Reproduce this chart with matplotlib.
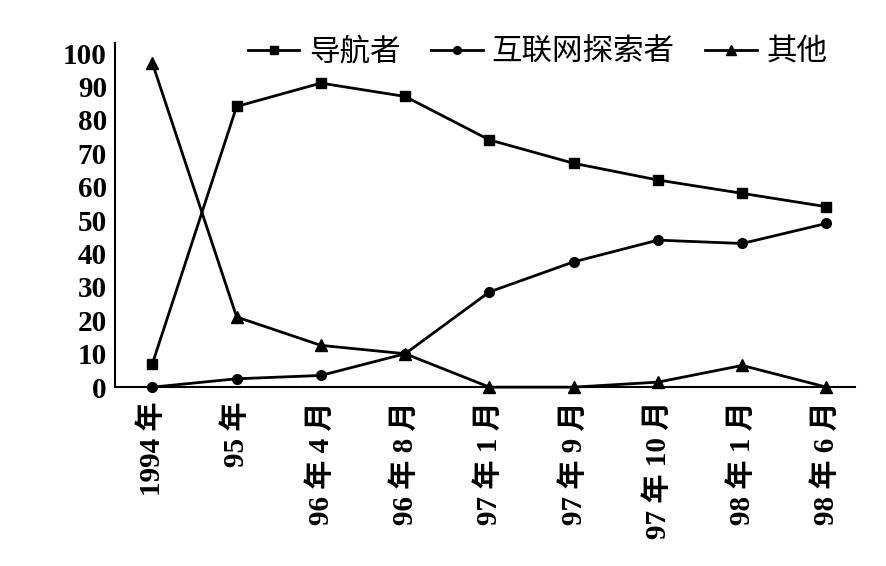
import matplotlib
matplotlib.use('Agg')
import matplotlib.pyplot as plt

plt.rcParams['font.family'] = ['Liberation Serif', 'Noto Sans CJK SC']

# data
periods = ['1994 年', '95 年', '96 年 4 月', '96 年 8 月', '97 年 1 月',
           '97 年 9 月', '97 年 10 月', '98 年 1 月', '98 年 6 月']
navigator = [7, 84, 91, 87, 74, 67, 62, 58, 54]
explorer = [0, 2.5, 3.5, 10, 28.5, 37.5, 44, 43, 49]
others = [97, 21, 12.5, 10, 0, 0, 1.5, 6.5, 0]
series_names = ['导航者', '互联网探索者', '其他']
y_ticks = [0, 10, 20, 30, 40, 50, 60, 70, 80, 90, 100]

fig = plt.figure(figsize=(8.87, 5.66), dpi=100)
ax = fig.add_axes([0.13, 0.316, 0.834, 0.608])

x = list(range(len(periods)))
ax.plot(x, navigator, color='black', lw=2, marker='s', ms=7, label=series_names[0], clip_on=False)
ax.plot(x, explorer, color='black', lw=2, marker='o', ms=7, label=series_names[1], clip_on=False)
ax.plot(x, others, color='black', lw=2, marker='^', ms=9, label=series_names[2], clip_on=False)

ax.set_xlim(-0.44, 8.34)
ax.set_ylim(0, 103)
ax.set_yticks(y_ticks)
ax.set_xticks(x)
ax.set_xticklabels(periods, rotation=90, fontsize=21, fontweight='bold')
ax.tick_params(axis='x', length=0, pad=10)
ax.tick_params(axis='y', length=0, pad=6, labelsize=21)
for lab in ax.get_yticklabels():
    lab.set_fontweight('bold')

for side in ['top', 'right']:
    ax.spines[side].set_visible(False)
ax.spines['left'].set_linewidth(1.5)
ax.spines['bottom'].set_linewidth(1.5)

fig.legend(loc='center', bbox_to_anchor=(0.606, 0.908), ncol=3, frameon=False,
           prop={'family': ['Noto Sans CJK SC', 'DejaVu Sans'], 'size': 22},
           handlelength=1.7, handletextpad=0.3, columnspacing=1.0, markerscale=0.8)

fig.savefig('out.png', dpi=100)
